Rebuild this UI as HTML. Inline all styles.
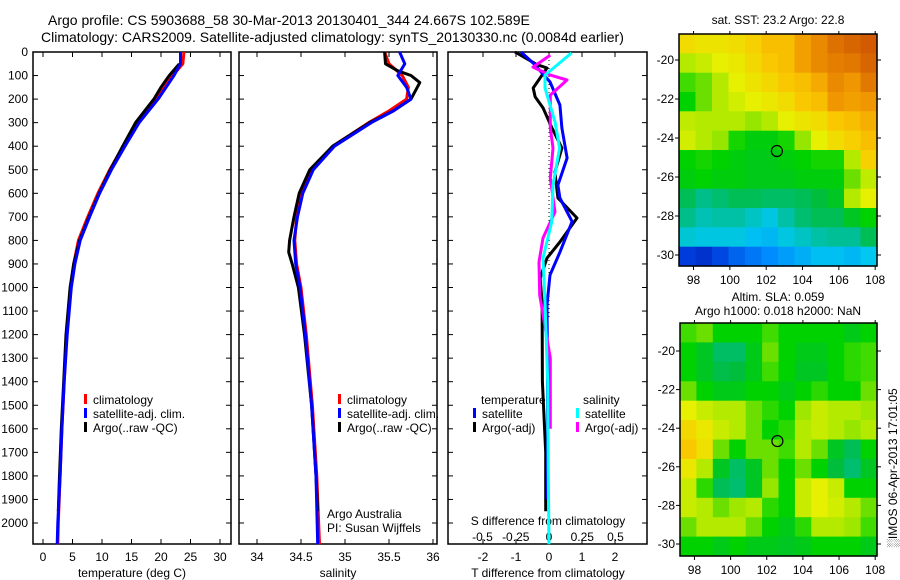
<!DOCTYPE html>
<html><head><meta charset="utf-8"><style>
body{margin:0;background:#fff;}
svg{display:block;font-family:"Liberation Sans",sans-serif;}
</style></head><body>
<svg id="fig" width="900" height="580" viewBox="0 0 900 580" xmlns="http://www.w3.org/2000/svg">
<text x="48" y="25" font-size="14">Argo profile: CS 5903688_58 30-Mar-2013 20130401_344 24.667S 102.589E</text>
<text x="41" y="42" font-size="14">Climatology: CARS2009. Satellite-adjusted climatology: synTS_20130330.nc (0.0084d earlier)</text>
</svg>
<script>
// ---- data ----
const depthTicks=[0,100,200,300,400,500,600,700,800,900,1000,1100,1200,1300,1400,1500,1600,1700,1800,1900,2000];
const tTicks=[0,5,10,15,20,25,30];
const sTicks=[34,34.5,35,35.5,36];
const tdTicks=[-2,-1,0,1,2];
const sdTicks=[-0.5,-0.25,0,0.25,0.5];
const sdTickLabels=["-0.5","-0.25","0","0.25","0.5"];
const climTDepth=[0,50,100,200,300,400,500,600,700,800,900,1000,1200,1400,1600,1800,2000,2090];
const climT=[23.9,23.7,22,19.2,16,13.6,11.3,9.3,7.6,6,5.2,4.7,4,3.6,3.2,2.9,2.6,2.5];
const satT=[23.3,23.3,22.2,19.5,16.3,13.9,11.6,9.6,7.9,6.3,5.4,4.8,4.1,3.6,3.2,2.9,2.5,2.4];
const argoTDepth=[50,100,150,200,300,400,500,600,700,800,900,1000,1200,1400,1600,1800,1950];
const argoT=[23.1,21.4,20,18.8,15.7,13.5,11.4,9.5,7.8,6.2,5.2,4.6,3.9,3.5,3.1,2.8,2.6];
const climSDepth=[0,50,100,150,200,250,300,400,500,600,700,800,900,1000,1200,1500,1800,2090];
const climS=[35.45,35.5,35.65,35.72,35.7,35.5,35.27,34.86,34.62,34.5,34.45,34.43,34.45,34.5,34.56,34.63,34.68,34.71];
const satS=[35.62,35.68,35.6,35.7,35.75,35.55,35.3,34.88,34.64,34.52,34.46,34.42,34.44,34.49,34.55,34.62,34.67,34.69];
const argoSDepth=[0,50,80,100,130,200,250,300,400,500,600,700,800,850,900,1000,1200,1500,1800,1950];
const argoS=[35.45,35.46,35.6,35.75,35.85,35.75,35.55,35.28,34.86,34.6,34.48,34.42,34.37,34.36,34.4,34.47,34.54,34.62,34.67,34.69];
const satTdDepth=[0,47,127,225,323,450,565,620,720,850,947,1074,1300,1600,1900];
const satTd=[-0.85,-0.48,0.03,0.33,0.39,0.55,0.27,0.33,0.7,0.33,0.03,-0.06,-0.05,-0.04,-0.05];
const argoTdDepth=[0,54,68,153,190,238,323,408,510,620,705,807,875,960,1062,1400,1700,1950];
const argoTd=[-1.03,-0.36,-0.06,-0.48,-0.42,-0.18,0.09,0.39,0.18,0.27,0.85,0.33,-0.06,-0.27,-0.21,-0.2,-0.1,-0.1];
const satSdDepth=[4,98,153,297,408,565,722,875,1062,1400,1800,2090];
const satSd=[0.17,-0.03,-0.03,0.045,0.08,0.03,0.02,-0.045,-0.03,-0.01,-0.005,0];
const argoSdDepth=[13,64,98,119,183,323,408,535,679,790,892,1032,1300,1600];
const argoSd=[0.01,-0.12,0.01,0.135,0.01,0.01,0.03,0.01,0.045,-0.045,-0.075,-0.07,0.01,0.01];
const sstGrid=[
[.65,.63,.63,.65,.68,.72,.72,.78,.82,.86,.88,.9],
[.55,.57,.6,.62,.66,.7,.72,.78,.82,.84,.85,.88],
[.48,.5,.55,.6,.63,.66,.7,.72,.76,.82,.8,.85],
[.45,.5,.55,.58,.6,.62,.65,.7,.72,.8,.78,.8],
[.56,.55,.55,.55,.52,.55,.6,.63,.65,.7,.72,.75],
[.58,.55,.52,.46,.44,.44,.46,.52,.6,.65,.68,.72],
[.45,.46,.45,.44,.43,.43,.44,.45,.46,.46,.55,.68],
[.44,.45,.44,.44,.43,.43,.43,.44,.44,.44,.5,.56],
[.38,.34,.36,.38,.38,.37,.37,.38,.4,.42,.55,.6],
[.34,.31,.32,.32,.3,.28,.32,.36,.38,.38,.42,.45],
[.29,.28,.28,.28,.26,.25,.28,.3,.32,.33,.33,.38],
[.12,.1,.13,.16,.18,.2,.22,.24,.26,.26,.25,.27]];
const slaGrid=[
[.48,.5,.45,.45,.45,.48,.45,.45,.45,.45,.43,.45],
[.45,.42,.37,.37,.43,.5,.45,.43,.43,.45,.47,.48],
[.45,.42,.39,.4,.43,.48,.45,.42,.42,.45,.47,.48],
[.5,.45,.43,.43,.45,.45,.43,.45,.47,.45,.45,.5],
[.6,.57,.55,.55,.5,.47,.45,.53,.57,.55,.55,.53],
[.66,.62,.57,.55,.5,.45,.47,.55,.57,.55,.52,.55],
[.7,.64,.5,.45,.5,.5,.48,.55,.5,.42,.38,.45],
[.62,.55,.42,.37,.42,.5,.45,.5,.45,.4,.36,.42],
[.57,.47,.38,.36,.42,.52,.45,.57,.6,.57,.45,.45],
[.57,.55,.5,.53,.55,.47,.45,.57,.6,.58,.55,.5],
[.5,.55,.55,.55,.5,.45,.43,.47,.55,.55,.53,.48],
[.45,.45,.43,.45,.43,.43,.42,.43,.45,.45,.45,.43]];
const lonTicks=[98,100,102,104,106,108];
const latTicks=[-20,-22,-24,-26,-28,-30];
const argoLon=[102.589], argoLat=[-24.667];

const NS="http://www.w3.org/2000/svg";
const svg=document.getElementById('fig');
function mk(tag,attrs,parent){const e=document.createElementNS(NS,tag);for(const k in attrs)e.setAttribute(k,attrs[k]);(parent||svg).appendChild(e);return e;}
function txt(s,x,y,anchor,size,name,parent){const t=mk('text',{x:x,y:y,'text-anchor':anchor||'start','font-size':size||12},parent);t.textContent=s;


return t;}

const top0=52,bot=544;
const yD=d=>top0+d*0.2355;
const panels=[{x0:33,x1:231},{x0:239,x1:437},{x0:448,x1:647}];
const xT=v=>43+v*(177/30);
const xS=v=>257+(v-34)*88;
const xTd=v=>549+v*33;
const xSd=v=>549+v*133;

panels.forEach((p,i)=>{
  const r=mk('rect',{x:p.x0,y:top0,width:p.x1-p.x0,height:bot-top0,fill:'none',stroke:'#000','stroke-width':1.5});
  
  
  depthTicks.forEach(d=>{
    const l=mk('line',{x1:p.x0,x2:p.x0+5,y1:yD(d),y2:yD(d),stroke:'#000'});
    
    
    const l2=mk('line',{x1:p.x1,x2:p.x1-5,y1:yD(d),y2:yD(d),stroke:'#000'});
    
    
  });
});
depthTicks.forEach(d=>txt(String(d),28,yD(d)+4,'end',12,'depth-tick-label'));

function xticks(vals,labels,fx,p,ly){vals.forEach((v,i)=>{
  const l=mk('line',{x1:fx(v),x2:fx(v),y1:bot,y2:bot-5,stroke:'#000'});
  
  
  const l2=mk('line',{x1:fx(v),x2:fx(v),y1:top0,y2:top0+5,stroke:'#000'});
  
  
  txt(labels[i],fx(v),ly,'middle',12,'x-tick-label');});}
xticks(tTicks,tTicks.map(String),xT,panels[0],561);
xticks(sTicks,sTicks.map(String),xS,panels[1],561);
xticks(tdTicks,tdTicks.map(String),xTd,panels[2],561);
sdTicks.forEach((v,i)=>txt(sdTickLabels[i],xSd(v),541,'middle',12,'s-diff-tick-label'));
txt('temperature (deg C)',132,577,'middle',12,'x-axis-title-temperature');
txt('salinity',338,577,'middle',12,'x-axis-title-salinity');
txt('T difference from climatology',548,577,'middle',12,'x-axis-title-t-diff');
txt('S difference from climatology',548,525,'middle',12,'x-axis-title-s-diff');

const zl=mk('line',{x1:549,x2:549,y1:top0,y2:320,stroke:'#000','stroke-dasharray':'1,3'});



function line(depths,vals,fx,color,name,w){
  const pts=depths.map((d,i)=>fx(vals[i]).toFixed(1)+','+yD(d).toFixed(1)).join(' ');
  const pl=mk('polyline',{points:pts,fill:'none',stroke:color,'stroke-width':w||3,'stroke-linejoin':'round'});
  
  
}
line(climTDepth,climT,xT,'#f00','temp-climatology-line');
line(argoTDepth,argoT,xT,'#000','temp-argo-line');
line(climTDepth,satT,xT,'#00f','temp-satellite-line');
line(climSDepth,climS,xS,'#f00','sal-climatology-line');
line(argoSDepth,argoS,xS,'#000','sal-argo-line');
line(climSDepth,satS,xS,'#00f','sal-satellite-line');
line(argoTdDepth,argoTd,xTd,'#000','tdiff-argo-line');
line(satTdDepth,satTd,xTd,'#00f','tdiff-satellite-line');
line(argoSdDepth,argoSd,xSd,'#f0f','sdiff-argo-line');
line(satSdDepth,satSd,xSd,'#0ff','sdiff-satellite-line');

function legend(x,y,color,label,name){
  const r=mk('rect',{x:x,y:y-10,width:3,height:10,fill:color});
  
  
  txt(label,x+9,y,'start',12,name);
}
[[0,'climatology','#f00'],[1,'satellite-adj. clim.','#00f'],[2,'Argo(..raw -QC)','#000']].forEach(([i,l,c])=>{
  legend(84,404+i*14,c,l,'legend-entry-temp');
  legend(338,404+i*14,c,l,'legend-entry-sal');
});
txt('temperature',481,404,'start',12,'legend-heading-temperature');
txt('salinity',583,404,'start',12,'legend-heading-salinity');
legend(473,418,'#00f','satellite','legend-entry-tdiff-satellite');
legend(473,432,'#000','Argo(-adj)','legend-entry-tdiff-argo');
legend(576,418,'#0ff','satellite','legend-entry-sdiff-satellite');
legend(576,432,'#f0f','Argo(-adj)','legend-entry-sdiff-argo');
txt('Argo Australia',327,518,'start',12,'credit-argo-australia');
txt('PI: Susan Wijffels',327,532,'start',12,'credit-pi');

// maps
const cmapStops=[0,.12,.2,.27,.33,.4,.45,.52,.6,.7,.8,.9,1];
const cmapCols=[[0,0,130],[0,60,220],[0,140,255],[0,200,240],[0,190,150],[0,190,60],[0,210,0],[150,230,0],[230,240,0],[250,200,0],[240,150,0],[210,90,0],[180,50,0]];
function cmap(v){
  for(let i=1;i<cmapStops.length;i++){if(v<=cmapStops[i]){const f=(v-cmapStops[i-1])/(cmapStops[i]-cmapStops[i-1]);const a=cmapCols[i-1],b=cmapCols[i];
    return 'rgb('+a.map((c,k)=>Math.round(c+(b[k]-c)*f)).join(',')+')';}}
  return 'rgb('+cmapCols[cmapCols.length-1].join(',')+')';
}
function map(grid,m,name){
  const lonMin=97.2,lonMax=108.1;
  const fx=lon=>m.x0+(lon-lonMin)/(lonMax-lonMin)*(m.x1-m.x0);
  const fy=lat=>m.y20+(-20-lat)*m.sy;
  const latTop=-20+(m.y20-m.y0)/m.sy, latBot=-20-(m.y1-m.y20)/m.sy;
  const rows=grid.length,cols=grid[0].length;
  const dLat=(latTop-latBot)/rows,dLon=(lonMax-lonMin)/cols;
  grid.forEach((row,ri)=>row.forEach((v,ci)=>{
    const x=fx(lonMin+ci*dLon),y=fy(latTop-ri*dLat);
    const c=mk('rect',{x:x.toFixed(1),y:y.toFixed(1),width:(fx(lonMin+(ci+1)*dLon)-x+0.6).toFixed(1),height:(dLat*m.sy+0.6).toFixed(1),fill:cmap(v)});
    
    
  }));
  const fr=mk('rect',{x:m.x0,y:m.y0,width:m.x1-m.x0,height:m.y1-m.y0,fill:'none',stroke:'#000','stroke-width':1.5});
  
  
  lonTicks.forEach(l=>{
    const t=mk('line',{x1:fx(l),x2:fx(l),y1:m.y1,y2:m.y1+4,stroke:'#000'});
    
    
    const t2=mk('line',{x1:fx(l),x2:fx(l),y1:m.y0,y2:m.y0-3,stroke:'#000'});
    
    
    txt(String(l),fx(l),m.y1+18,'middle',12,name+'-lon-label');
  });
  latTicks.forEach(l=>{
    const t=mk('line',{x1:m.x1,x2:m.x1+4,y1:fy(l),y2:fy(l),stroke:'#000'});
    
    
    const t2=mk('line',{x1:m.x0,x2:m.x0-4,y1:fy(l),y2:fy(l),stroke:'#000'});
    
    
    txt(String(l),m.x0-5,fy(l)+4,'end',12,name+'-lat-label');
  });
  argoLon.forEach((lo,i)=>{
    const c=mk('circle',{cx:fx(lo),cy:fy(argoLat[i]),r:5.5,fill:'none',stroke:'#000','stroke-width':1.2});
    
    
  });
}
map(sstGrid,{x0:679,x1:877,y0:34,y1:266,y20:60,sy:19.5},'sst-map');
map(slaGrid,{x0:680,x1:877,y0:323,y1:556,y20:351,sy:19.3},'sla-map');
txt('sat. SST: 23.2  Argo: 22.8',778,24,'middle',12,'sst-map-title');
txt('Altim. SLA: 0.059',778,301,'middle',12,'sla-map-title-1');
txt('Argo h1000: 0.018 h2000: NaN',778,315,'middle',12,'sla-map-title-2');
const im=txt('\u2591IMOS 06-Apr-2013 17:01:05',0,0,'middle',12,'imos-timestamp');
im.setAttribute('transform','translate(897,468) rotate(-90)');
</script>
</body></html>
